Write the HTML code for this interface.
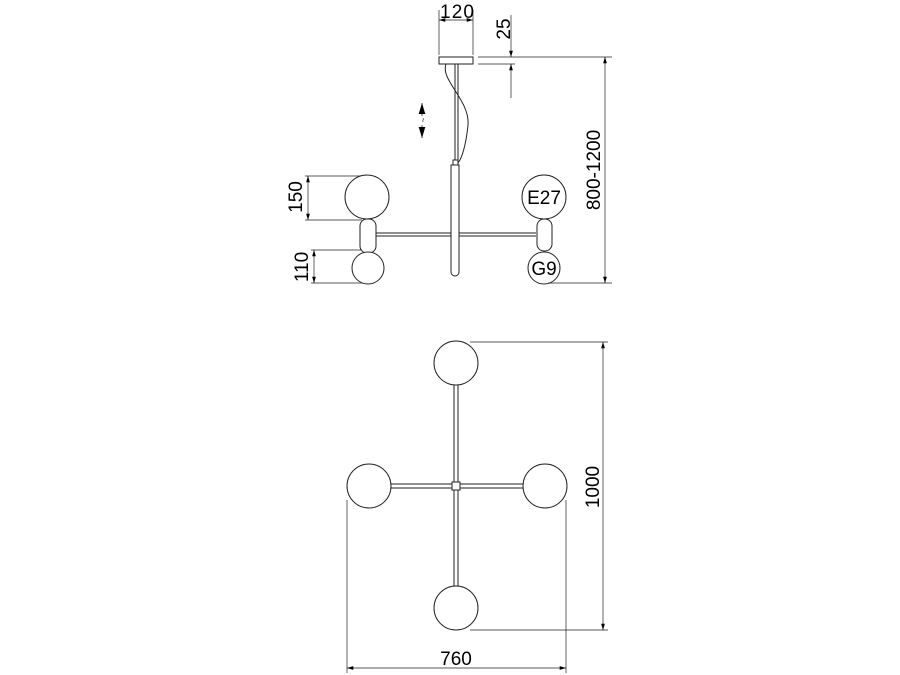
<!DOCTYPE html>
<html><head><style>body{margin:0;background:#fff}svg{display:block}</style></head><body>
<svg width="900" height="675" viewBox="0 0 900 675" xmlns="http://www.w3.org/2000/svg" font-family="Liberation Sans, sans-serif">
<defs>
<marker id="a" viewBox="0 0 10 10" refX="10" refY="5" markerWidth="9" markerHeight="9" orient="auto-start-reverse"><path d="M0,2 L10,5 L0,8z" fill="#000"/></marker>
<marker id="b" viewBox="0 0 10 10" refX="10" refY="5" markerWidth="14" markerHeight="14" orient="auto-start-reverse"><path d="M0,2 L10,5 L0,8z" fill="#000"/></marker>
</defs>
<g fill="none" stroke="#222" stroke-width="1">
<rect x="439" y="57" width="34" height="7" fill="#fff"/>
<line x1="455" y1="64" x2="455" y2="164"/>
<line x1="458" y1="64" x2="458" y2="164"/>
<path d="M446,64 C440,80 470,100 468,125 C466,145 462,158 458,163"/>
<rect x="453" y="160" width="5" height="5" fill="#fff"/>
<path d="M451,165 H459 V272 A4,4 0 0 1 451,272 Z" fill="#fff"/>
<line x1="376" y1="233" x2="451" y2="233"/><line x1="376" y1="236" x2="451" y2="236"/>
<line x1="459" y1="233" x2="536" y2="233"/><line x1="459" y1="236" x2="536" y2="236"/>
<rect x="360" y="219" width="16" height="34" rx="7" fill="#fff"/>
<circle cx="367" cy="197" r="22" fill="#fff"/>
<circle cx="368" cy="268" r="16" fill="#fff"/>
<rect x="537" y="219" width="15" height="32" rx="7" fill="#fff"/>
<circle cx="544" cy="197" r="22" fill="#fff"/>
<circle cx="544" cy="268" r="16" fill="#fff"/>
<line x1="439" y1="10" x2="439" y2="55" stroke-width=".7"/>
<line x1="473" y1="10" x2="473" y2="55" stroke-width=".7"/>
<line x1="439" y1="20" x2="473" y2="20" marker-start="url(#a)" marker-end="url(#a)" stroke-width=".7"/>
<line x1="478" y1="57" x2="612" y2="57" stroke-width=".7"/>
<line x1="478" y1="64" x2="515" y2="64" stroke-width=".7"/>
<line x1="511" y1="15" x2="511" y2="57" marker-end="url(#a)" stroke-width=".7"/>
<line x1="511" y1="98" x2="511" y2="64" marker-end="url(#a)" stroke-width=".7"/>
<line x1="605" y1="57" x2="605" y2="283" marker-start="url(#a)" marker-end="url(#a)" stroke-width=".7"/>
<line x1="548" y1="283" x2="612" y2="283" stroke-width=".7"/>
<line x1="305" y1="176" x2="360" y2="176" stroke-width=".7"/>
<line x1="305" y1="220" x2="362" y2="220" stroke-width=".7"/>
<line x1="308" y1="176" x2="308" y2="220" marker-start="url(#a)" marker-end="url(#a)" stroke-width=".7"/>
<line x1="311" y1="250" x2="362" y2="250" stroke-width=".7"/>
<line x1="311" y1="283" x2="362" y2="283" stroke-width=".7"/>
<line x1="314" y1="250" x2="314" y2="283" marker-start="url(#a)" marker-end="url(#a)" stroke-width=".7"/>
<line x1="422" y1="103" x2="422" y2="116" marker-start="url(#b)" stroke-width=".8"/>
<line x1="422" y1="125" x2="422" y2="138" marker-end="url(#b)" stroke-width=".8"/>
<line x1="454" y1="384" x2="454" y2="586"/><line x1="458" y1="384" x2="458" y2="586"/>
<line x1="391" y1="484" x2="523" y2="484"/><line x1="391" y1="488" x2="523" y2="488"/>
<rect x="452" y="482" width="8" height="8" fill="#fff"/>
<circle cx="456" cy="363" r="22" fill="#fff"/>
<circle cx="369" cy="486" r="22" fill="#fff"/>
<circle cx="545" cy="486" r="22" fill="#fff"/>
<circle cx="456" cy="608" r="22" fill="#fff"/>
<line x1="470" y1="342" x2="608" y2="342" stroke-width=".7"/>
<line x1="470" y1="630" x2="608" y2="630" stroke-width=".7"/>
<line x1="603" y1="342" x2="603" y2="630" marker-start="url(#a)" marker-end="url(#a)" stroke-width=".7"/>
<line x1="347" y1="500" x2="347" y2="673" stroke-width=".7"/>
<line x1="566" y1="500" x2="566" y2="673" stroke-width=".7"/>
<line x1="347" y1="668" x2="566" y2="668" marker-start="url(#a)" marker-end="url(#a)" stroke-width=".7"/>
</g>
<g fill="#000" font-size="19" style="font-stretch:condensed">
<text x="457" y="18" text-anchor="middle" textLength="34">120</text>
<text transform="translate(510,29) rotate(-90)" text-anchor="middle">25</text>
<text transform="translate(600,170) rotate(-90)" text-anchor="middle">800-1200</text>
<text transform="translate(302,197) rotate(-90)" text-anchor="middle">150</text>
<text transform="translate(308,267) rotate(-90)" text-anchor="middle">110</text>
<text transform="translate(599,487) rotate(-90)" text-anchor="middle">1000</text>
<text x="456" y="665" text-anchor="middle">760</text>
<text x="544" y="204" text-anchor="middle">E27</text>
<text x="544" y="275" text-anchor="middle">G9</text>
<text transform="translate(426,120) rotate(-90)" text-anchor="middle" font-size="8">~</text>
</g>
</svg>
</body></html>
